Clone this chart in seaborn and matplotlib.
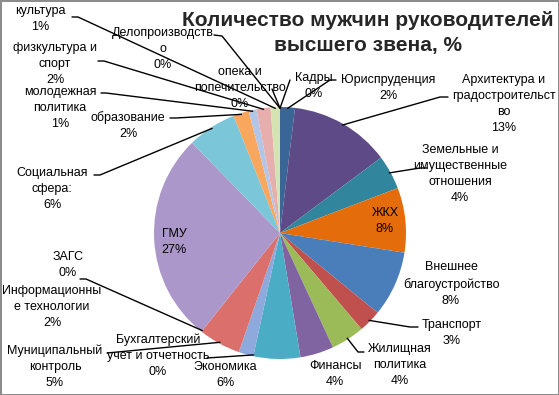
import numpy as np
import pandas as pd
import matplotlib.pyplot as plt
import seaborn as sns

# categories in clockwise order from 12 o'clock
names = ['Кадры', 'Юриспруденция', 'Архитектура и\nградостроительст\nво',
         'Земельные и\nимущественные\nотношения', 'ЖКХ', 'Внешнее\nблагоустройство',
         'Транспорт', 'Жилищная\nполитика', 'Финансы', 'Экономика',
         'Бухгалтерский\nучет и отчетность', 'Информационны\nе технологии',
         'Муниципальный\nконтроль', 'ЗАГС', 'ГМУ', 'Социальная\nсфера:',
         'образование', 'молодежная\nполитика', 'физкультура и\nспорт', 'культура',
         'опека и\nпопечительство', 'Делопроизводств\nо']
values = [0, 1.9, 12.9, 4.4, 8.3, 8.4, 2.9, 4.3, 4.3, 6.0, 0, 1.9, 5.4, 0,
          27.0, 6.3, 2.0, 1.0, 1.8, 1.2, 0, 0]
colors = ['#4F81BD', '#3A6597', '#5E4A86', '#31859C', '#E46C0A', '#4A7EBB',
          '#C0504D', '#9BBB59', '#8064A2', '#4BACC6', '#F79646', '#8EA9DB',
          '#DA6F6C', '#9BBB59', '#AB97C9', '#7CC6D9', '#F9A65E', '#B3C6E7',
          '#E6AFAE', '#D3E4B2', '#4BACC6', '#F79646']

# label centres and leader line starts, in picture pixels
label_px = [(314, 86), (388, 88), (504, 104), (460, 174), (385, 221), (451, 284),
            (452, 333), (400, 365), (335, 374), (225, 375), (158, 356), (52, 307),
            (55, 367), (68, 265), (174, 242), (52, 189), (128, 126), (60, 108),
            (55, 64), (40, 19), (240, 88), (163, 49)]
leader_px = [[(290, 80)], [(336, 80), (330, 80)], [(448, 97), (440, 97)],
             [(427, 168), (420, 168)], None, None, [(418, 327), (410, 327)],
             [(364, 352), (358, 352)], None, None, [(207, 358)], None,
             [(107, 353)], [(80, 279), (86, 279)], None, [(94, 175), (100, 175)],
             [(170, 118), (176, 118)], [(101, 93), (106, 93)],
             [(98, 61), (104, 61)], [(72, 17), (78, 17)], [(272, 89)],
             [(214, 35), (222, 36)]]

CX, CY, R = 280, 233, 126
W, H = 559, 395


def to_data(p):
    return ((p[0] - CX) / R, (CY - p[1]) / R)


sns.set_theme(style='white')
plt.rcParams['font.family'] = ['Liberation Sans', 'DejaVu Sans']

fig = plt.figure(figsize=(W / 100, H / 100), dpi=100)
fig.patch.set_facecolor('white')
fig.patch.set_edgecolor('#8c8c8c')
fig.patch.set_linewidth(2)
ax = fig.add_axes([0, 0, 1, 1])

wedges, _ = ax.pie(values, colors=colors, startangle=90, counterclock=False,
                   radius=1, wedgeprops=dict(linewidth=0))

total = sum(values)
for w, name, v, lp, lead in zip(wedges, names, values, label_px, leader_px):
    pct = int(v / total * 100 + 0.5)
    x, y = to_data(lp)
    ax.text(x, y, f'{name}\n{pct}%', ha='center', va='center', fontsize=9,
            linespacing=1.45, color='black')
    if lead is not None:
        mid = np.deg2rad((w.theta1 + w.theta2) / 2)
        pts = [to_data(p) for p in lead] + [(np.cos(mid) * 0.99, np.sin(mid) * 0.99)]
        pts = np.array(pts)
        ax.plot(pts[:, 0], pts[:, 1], color='black', lw=1)

fig.text(368 / W, 1 - 33 / H, 'Количество мужчин руководителей\nвысшего звена, %',
         ha='center', va='center', fontsize=15, fontweight='bold', linespacing=1.35)

ax.set_xlim(-CX / R, (W - CX) / R)
ax.set_ylim((CY - H) / R, CY / R)
ax.set_aspect('equal')
ax.axis('off')

fig.savefig('out.png', dpi=100)
